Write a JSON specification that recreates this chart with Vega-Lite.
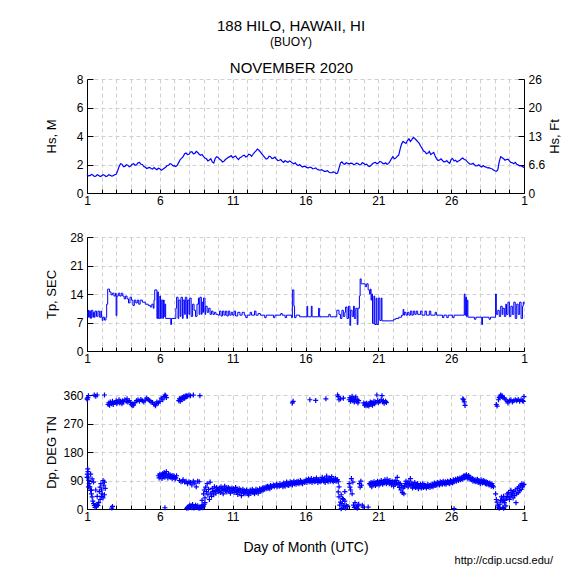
{
"$schema":"https://vega.github.io/schema/vega-lite/v6.json",
"padding":{"left":45,"top":19,"right":10,"bottom":10},
"title":{"text":"188 HILO, HAWAII, HI","subtitle":"(BUOY)","anchor":"middle","dx":-12,"fontSize":15,"fontWeight":"normal","subtitleFontSize":12,"subtitlePadding":3,"font":"Liberation Sans","subtitleFont":"Liberation Sans","color":"black","subtitleColor":"black","offset":13},
"datasets":{
"hs":[{"d":1.0,"hs":1.30},{"d":1.1,"hs":1.20},{"d":1.2,"hs":1.22},{"d":1.3,"hs":1.30},{"d":1.4,"hs":1.26},{"d":1.5,"hs":1.16},{"d":1.6,"hs":1.18},{"d":1.7,"hs":1.28},{"d":1.8,"hs":1.24},{"d":1.9,"hs":1.15},{"d":2.0,"hs":1.20},{"d":2.1,"hs":1.28},{"d":2.2,"hs":1.25},{"d":2.3,"hs":1.16},{"d":2.4,"hs":1.19},{"d":2.5,"hs":1.28},{"d":2.6,"hs":1.24},{"d":2.7,"hs":1.18},{"d":2.8,"hs":1.22},{"d":2.9,"hs":1.28},{"d":3.0,"hs":1.32},{"d":3.1,"hs":1.55},{"d":3.2,"hs":1.85},{"d":3.3,"hs":2.05},{"d":3.4,"hs":2.02},{"d":3.5,"hs":1.85},{"d":3.6,"hs":1.86},{"d":3.7,"hs":1.98},{"d":3.8,"hs":1.95},{"d":3.9,"hs":1.84},{"d":4.0,"hs":1.90},{"d":4.1,"hs":2.02},{"d":4.2,"hs":2.05},{"d":4.3,"hs":1.95},{"d":4.4,"hs":1.98},{"d":4.5,"hs":2.12},{"d":4.6,"hs":2.15},{"d":4.7,"hs":2.02},{"d":4.8,"hs":2.00},{"d":4.9,"hs":1.86},{"d":5.0,"hs":1.80},{"d":5.1,"hs":1.72},{"d":5.2,"hs":1.76},{"d":5.3,"hs":1.80},{"d":5.4,"hs":1.72},{"d":5.5,"hs":1.68},{"d":5.6,"hs":1.78},{"d":5.7,"hs":1.70},{"d":5.8,"hs":1.64},{"d":5.9,"hs":1.74},{"d":6.0,"hs":1.70},{"d":6.1,"hs":1.60},{"d":6.2,"hs":1.66},{"d":6.3,"hs":1.74},{"d":6.4,"hs":1.80},{"d":6.5,"hs":1.92},{"d":6.6,"hs":1.95},{"d":6.7,"hs":2.05},{"d":6.8,"hs":2.02},{"d":6.9,"hs":1.90},{"d":7.0,"hs":1.92},{"d":7.1,"hs":1.86},{"d":7.2,"hs":1.96},{"d":7.3,"hs":2.15},{"d":7.4,"hs":2.35},{"d":7.5,"hs":2.45},{"d":7.6,"hs":2.55},{"d":7.7,"hs":2.75},{"d":7.8,"hs":2.80},{"d":7.9,"hs":2.70},{"d":8.0,"hs":2.72},{"d":8.1,"hs":2.88},{"d":8.2,"hs":2.90},{"d":8.3,"hs":2.75},{"d":8.4,"hs":2.78},{"d":8.5,"hs":2.92},{"d":8.6,"hs":2.85},{"d":8.7,"hs":2.72},{"d":8.8,"hs":2.65},{"d":8.9,"hs":2.70},{"d":9.0,"hs":2.55},{"d":9.1,"hs":2.45},{"d":9.2,"hs":2.40},{"d":9.3,"hs":2.25},{"d":9.4,"hs":2.32},{"d":9.5,"hs":2.40},{"d":9.6,"hs":2.18},{"d":9.7,"hs":2.10},{"d":9.8,"hs":2.42},{"d":9.9,"hs":2.55},{"d":10.0,"hs":2.50},{"d":10.1,"hs":2.38},{"d":10.2,"hs":2.30},{"d":10.3,"hs":2.18},{"d":10.4,"hs":2.22},{"d":10.5,"hs":2.35},{"d":10.6,"hs":2.42},{"d":10.7,"hs":2.50},{"d":10.8,"hs":2.55},{"d":10.9,"hs":2.62},{"d":11.0,"hs":2.48},{"d":11.1,"hs":2.55},{"d":11.2,"hs":2.60},{"d":11.3,"hs":2.45},{"d":11.4,"hs":2.35},{"d":11.5,"hs":2.48},{"d":11.6,"hs":2.52},{"d":11.7,"hs":2.62},{"d":11.8,"hs":2.65},{"d":11.9,"hs":2.52},{"d":12.0,"hs":2.58},{"d":12.1,"hs":2.72},{"d":12.2,"hs":2.68},{"d":12.3,"hs":2.58},{"d":12.4,"hs":2.72},{"d":12.5,"hs":2.85},{"d":12.6,"hs":2.95},{"d":12.7,"hs":3.08},{"d":12.8,"hs":3.00},{"d":12.9,"hs":2.88},{"d":13.0,"hs":2.75},{"d":13.1,"hs":2.62},{"d":13.2,"hs":2.50},{"d":13.3,"hs":2.38},{"d":13.4,"hs":2.42},{"d":13.5,"hs":2.58},{"d":13.6,"hs":2.55},{"d":13.7,"hs":2.42},{"d":13.8,"hs":2.45},{"d":13.9,"hs":2.52},{"d":14.0,"hs":2.38},{"d":14.1,"hs":2.28},{"d":14.2,"hs":2.30},{"d":14.3,"hs":2.35},{"d":14.4,"hs":2.22},{"d":14.5,"hs":2.15},{"d":14.6,"hs":2.28},{"d":14.7,"hs":2.20},{"d":14.8,"hs":2.15},{"d":14.9,"hs":2.25},{"d":15.0,"hs":2.20},{"d":15.1,"hs":2.10},{"d":15.2,"hs":2.05},{"d":15.3,"hs":2.12},{"d":15.4,"hs":1.98},{"d":15.5,"hs":1.92},{"d":15.6,"hs":2.00},{"d":15.7,"hs":1.90},{"d":15.8,"hs":1.82},{"d":15.9,"hs":1.88},{"d":16.0,"hs":1.85},{"d":16.1,"hs":1.78},{"d":16.2,"hs":1.76},{"d":16.3,"hs":1.82},{"d":16.4,"hs":1.78},{"d":16.5,"hs":1.70},{"d":16.6,"hs":1.72},{"d":16.7,"hs":1.76},{"d":16.8,"hs":1.66},{"d":16.9,"hs":1.62},{"d":17.0,"hs":1.60},{"d":17.1,"hs":1.64},{"d":17.2,"hs":1.58},{"d":17.3,"hs":1.52},{"d":17.4,"hs":1.52},{"d":17.5,"hs":1.56},{"d":17.6,"hs":1.48},{"d":17.7,"hs":1.42},{"d":17.8,"hs":1.42},{"d":17.9,"hs":1.48},{"d":18.0,"hs":1.46},{"d":18.1,"hs":1.36},{"d":18.2,"hs":1.40},{"d":18.3,"hs":1.75},{"d":18.4,"hs":2.10},{"d":18.5,"hs":2.18},{"d":18.6,"hs":2.06},{"d":18.7,"hs":2.02},{"d":18.8,"hs":2.12},{"d":18.9,"hs":2.08},{"d":19.0,"hs":2.03},{"d":19.1,"hs":2.10},{"d":19.2,"hs":2.08},{"d":19.3,"hs":2.00},{"d":19.4,"hs":2.02},{"d":19.5,"hs":2.10},{"d":19.6,"hs":2.06},{"d":19.7,"hs":1.98},{"d":19.8,"hs":2.00},{"d":19.9,"hs":2.12},{"d":20.0,"hs":2.08},{"d":20.1,"hs":1.98},{"d":20.2,"hs":2.02},{"d":20.3,"hs":1.90},{"d":20.4,"hs":1.86},{"d":20.5,"hs":1.95},{"d":20.6,"hs":2.05},{"d":20.7,"hs":2.12},{"d":20.8,"hs":2.15},{"d":20.9,"hs":2.05},{"d":21.0,"hs":2.10},{"d":21.1,"hs":2.22},{"d":21.2,"hs":2.18},{"d":21.3,"hs":2.08},{"d":21.4,"hs":2.05},{"d":21.5,"hs":2.12},{"d":21.6,"hs":2.00},{"d":21.7,"hs":2.08},{"d":21.8,"hs":2.22},{"d":21.9,"hs":2.40},{"d":22.0,"hs":2.55},{"d":22.1,"hs":2.40},{"d":22.2,"hs":2.45},{"d":22.3,"hs":2.58},{"d":22.4,"hs":2.65},{"d":22.5,"hs":3.10},{"d":22.6,"hs":3.45},{"d":22.7,"hs":3.62},{"d":22.8,"hs":3.55},{"d":22.9,"hs":3.48},{"d":23.0,"hs":3.68},{"d":23.1,"hs":3.80},{"d":23.2,"hs":3.62},{"d":23.3,"hs":3.75},{"d":23.4,"hs":3.90},{"d":23.5,"hs":3.82},{"d":23.6,"hs":3.72},{"d":23.7,"hs":3.60},{"d":23.8,"hs":3.50},{"d":23.9,"hs":3.30},{"d":24.0,"hs":3.15},{"d":24.1,"hs":2.95},{"d":24.2,"hs":2.90},{"d":24.3,"hs":2.75},{"d":24.4,"hs":2.80},{"d":24.5,"hs":2.92},{"d":24.6,"hs":2.70},{"d":24.7,"hs":2.78},{"d":24.8,"hs":2.85},{"d":24.9,"hs":2.60},{"d":25.0,"hs":2.40},{"d":25.1,"hs":2.28},{"d":25.2,"hs":2.32},{"d":25.3,"hs":2.40},{"d":25.4,"hs":2.28},{"d":25.5,"hs":2.18},{"d":25.6,"hs":2.20},{"d":25.7,"hs":2.28},{"d":25.8,"hs":2.15},{"d":25.9,"hs":2.08},{"d":26.0,"hs":2.35},{"d":26.1,"hs":2.42},{"d":26.2,"hs":2.25},{"d":26.3,"hs":2.30},{"d":26.4,"hs":2.18},{"d":26.5,"hs":2.25},{"d":26.6,"hs":2.30},{"d":26.7,"hs":2.40},{"d":26.8,"hs":2.45},{"d":26.9,"hs":2.35},{"d":27.0,"hs":2.32},{"d":27.1,"hs":2.20},{"d":27.2,"hs":2.10},{"d":27.3,"hs":2.02},{"d":27.4,"hs":2.02},{"d":27.5,"hs":2.08},{"d":27.6,"hs":1.98},{"d":27.7,"hs":1.90},{"d":27.8,"hs":1.92},{"d":27.9,"hs":1.98},{"d":28.0,"hs":1.88},{"d":28.1,"hs":1.82},{"d":28.2,"hs":1.92},{"d":28.3,"hs":1.85},{"d":28.4,"hs":1.82},{"d":28.5,"hs":1.76},{"d":28.6,"hs":1.78},{"d":28.7,"hs":1.72},{"d":28.8,"hs":1.70},{"d":28.9,"hs":1.62},{"d":29.0,"hs":1.56},{"d":29.1,"hs":1.52},{"d":29.2,"hs":1.62},{"d":29.3,"hs":2.20},{"d":29.4,"hs":2.55},{"d":29.5,"hs":2.48},{"d":29.6,"hs":2.40},{"d":29.7,"hs":2.30},{"d":29.8,"hs":2.35},{"d":29.9,"hs":2.38},{"d":30.0,"hs":2.25},{"d":30.1,"hs":2.15},{"d":30.2,"hs":2.12},{"d":30.3,"hs":2.05},{"d":30.4,"hs":2.15},{"d":30.5,"hs":2.02},{"d":30.6,"hs":1.98},{"d":30.7,"hs":1.90},{"d":30.8,"hs":1.92},{"d":30.9,"hs":1.85},{"d":31.0,"hs":1.80}],
"tp":[{"d":1.0,"tp":9.5},{"d":1.05,"tp":8.3},{"d":1.1,"tp":10},{"d":1.15,"tp":8.3},{"d":1.2,"tp":9.8},{"d":1.25,"tp":8},{"d":1.3,"tp":10},{"d":1.4,"tp":8.3},{"d":1.45,"tp":9.5},{"d":1.5,"tp":8.3},{"d":1.55,"tp":9.8},{"d":1.65,"tp":8.5},{"d":1.75,"tp":9.8},{"d":1.85,"tp":8.3},{"d":1.95,"tp":9.8},{"d":2.0,"tp":8.3},{"d":2.05,"tp":7.5},{"d":2.1,"tp":8.3},{"d":2.2,"tp":7.6},{"d":2.3,"tp":8.3},{"d":2.35,"tp":11.5},{"d":2.42,"tp":15.2},{"d":2.55,"tp":14.5},{"d":2.65,"tp":13.8},{"d":2.75,"tp":14.2},{"d":2.85,"tp":13.5},{"d":2.95,"tp":14.2},{"d":3.0,"tp":8.7},{"d":3.05,"tp":13.5},{"d":3.15,"tp":14.2},{"d":3.25,"tp":13.5},{"d":3.35,"tp":14.2},{"d":3.45,"tp":13.5},{"d":3.55,"tp":12.8},{"d":3.65,"tp":13.5},{"d":3.75,"tp":12.8},{"d":3.85,"tp":11.8},{"d":3.95,"tp":13.2},{"d":4.05,"tp":12.5},{"d":4.15,"tp":11.2},{"d":4.25,"tp":12.5},{"d":4.35,"tp":11.8},{"d":4.45,"tp":12.5},{"d":4.55,"tp":11.5},{"d":4.65,"tp":12.5},{"d":4.8,"tp":12.0},{"d":5.0,"tp":11.5},{"d":5.2,"tp":11.2},{"d":5.35,"tp":10.8},{"d":5.45,"tp":11.5},{"d":5.55,"tp":10.5},{"d":5.6,"tp":12.5},{"d":5.65,"tp":15.0},{"d":5.8,"tp":8.0},{"d":5.85,"tp":14.5},{"d":5.9,"tp":8.0},{"d":6.0,"tp":13.5},{"d":6.05,"tp":8.0},{"d":6.1,"tp":12.5},{"d":6.2,"tp":8.0},{"d":6.25,"tp":12.5},{"d":6.3,"tp":8.5},{"d":6.35,"tp":11.5},{"d":6.4,"tp":8.0},{"d":6.75,"tp":6.5},{"d":6.8,"tp":8.0},{"d":7.1,"tp":10.5},{"d":7.15,"tp":13.2},{"d":7.25,"tp":8.0},{"d":7.3,"tp":12.5},{"d":7.4,"tp":8.5},{"d":7.45,"tp":13.2},{"d":7.55,"tp":8.0},{"d":7.6,"tp":12.5},{"d":7.7,"tp":9.0},{"d":7.75,"tp":13.2},{"d":7.85,"tp":8.0},{"d":7.9,"tp":12.5},{"d":8.0,"tp":9.0},{"d":8.05,"tp":13.0},{"d":8.15,"tp":8.5},{"d":8.25,"tp":11.5},{"d":8.35,"tp":10.0},{"d":8.45,"tp":8.5},{"d":8.55,"tp":11.5},{"d":8.65,"tp":13.0},{"d":8.7,"tp":9.0},{"d":8.75,"tp":13.2},{"d":8.85,"tp":9.0},{"d":8.9,"tp":12.0},{"d":8.95,"tp":9.5},{"d":9.0,"tp":13.0},{"d":9.1,"tp":9.0},{"d":9.15,"tp":11.0},{"d":9.25,"tp":9.5},{"d":9.35,"tp":10.5},{"d":9.45,"tp":9.0},{"d":9.55,"tp":9.8},{"d":9.65,"tp":9.0},{"d":9.75,"tp":9.5},{"d":9.85,"tp":9.0},{"d":10.0,"tp":8.8},{"d":10.1,"tp":9.8},{"d":10.2,"tp":8.6},{"d":10.3,"tp":9.8},{"d":10.4,"tp":8.8},{"d":10.5,"tp":9.8},{"d":10.6,"tp":8.6},{"d":10.7,"tp":9.8},{"d":10.8,"tp":8.8},{"d":10.9,"tp":9.5},{"d":11.0,"tp":8.8},{"d":11.1,"tp":9.8},{"d":11.2,"tp":8.6},{"d":11.35,"tp":9.5},{"d":11.5,"tp":8.8},{"d":11.65,"tp":9.5},{"d":11.8,"tp":8.8},{"d":11.9,"tp":8.2},{"d":12.0,"tp":8.8},{"d":12.2,"tp":9.5},{"d":12.3,"tp":8.8},{"d":12.5,"tp":9.8},{"d":12.6,"tp":8.8},{"d":12.75,"tp":9.2},{"d":12.9,"tp":8.8},{"d":13.2,"tp":8.2},{"d":13.3,"tp":8.8},{"d":13.8,"tp":8.2},{"d":13.9,"tp":8.8},{"d":14.3,"tp":9.2},{"d":14.4,"tp":8.8},{"d":14.6,"tp":8.2},{"d":14.7,"tp":8.8},{"d":15.05,"tp":8.2},{"d":15.1,"tp":15.0},{"d":15.2,"tp":11.0},{"d":15.25,"tp":8.2},{"d":15.35,"tp":8.8},{"d":15.6,"tp":8.4},{"d":16.1,"tp":11.0},{"d":16.15,"tp":8.4},{"d":16.4,"tp":11.0},{"d":16.45,"tp":8.4},{"d":16.9,"tp":10.5},{"d":16.95,"tp":8.4},{"d":17.6,"tp":9.0},{"d":17.7,"tp":8.4},{"d":18.15,"tp":10.0},{"d":18.3,"tp":9.0},{"d":18.4,"tp":8.0},{"d":18.5,"tp":10.0},{"d":18.6,"tp":8.5},{"d":18.7,"tp":9.5},{"d":18.75,"tp":10.8},{"d":18.85,"tp":8.0},{"d":18.95,"tp":11.0},{"d":19.05,"tp":6.3},{"d":19.1,"tp":10.0},{"d":19.2,"tp":8.5},{"d":19.3,"tp":11.0},{"d":19.35,"tp":8.0},{"d":19.45,"tp":10.5},{"d":19.55,"tp":6.5},{"d":19.6,"tp":10.5},{"d":19.7,"tp":13.5},{"d":19.75,"tp":17.7},{"d":19.82,"tp":16.5},{"d":20.1,"tp":15.8},{"d":20.2,"tp":16.5},{"d":20.3,"tp":15.0},{"d":20.4,"tp":14.0},{"d":20.45,"tp":15.2},{"d":20.5,"tp":12.5},{"d":20.55,"tp":14.0},{"d":20.6,"tp":6.8},{"d":20.7,"tp":13.5},{"d":20.75,"tp":6.5},{"d":20.85,"tp":13.0},{"d":20.9,"tp":6.5},{"d":21.0,"tp":13.0},{"d":21.1,"tp":7.5},{"d":21.2,"tp":13.0},{"d":21.25,"tp":7.4},{"d":22.05,"tp":7.8},{"d":22.2,"tp":8.0},{"d":22.4,"tp":8.3},{"d":22.6,"tp":8.8},{"d":22.7,"tp":10.2},{"d":22.75,"tp":8.8},{"d":22.8,"tp":9.5},{"d":22.9,"tp":8.8},{"d":23.0,"tp":9.5},{"d":23.1,"tp":8.8},{"d":23.2,"tp":9.8},{"d":23.3,"tp":8.8},{"d":23.4,"tp":9.8},{"d":23.5,"tp":9.0},{"d":23.6,"tp":9.8},{"d":23.7,"tp":9.0},{"d":23.9,"tp":9.8},{"d":24.0,"tp":8.8},{"d":24.2,"tp":9.8},{"d":24.3,"tp":8.8},{"d":24.5,"tp":9.8},{"d":24.6,"tp":8.8},{"d":24.9,"tp":9.5},{"d":25.0,"tp":8.8},{"d":25.4,"tp":8.2},{"d":25.5,"tp":8.8},{"d":25.7,"tp":8.2},{"d":25.8,"tp":8.8},{"d":26.1,"tp":8.2},{"d":26.2,"tp":8.8},{"d":26.9,"tp":14.0},{"d":26.95,"tp":8.8},{"d":27.0,"tp":13.2},{"d":27.05,"tp":8.5},{"d":27.1,"tp":12.5},{"d":27.15,"tp":8.3},{"d":27.6,"tp":7.8},{"d":27.7,"tp":8.3},{"d":28.1,"tp":6.5},{"d":28.15,"tp":8.3},{"d":28.6,"tp":7.8},{"d":28.7,"tp":8.3},{"d":29.05,"tp":14.0},{"d":29.1,"tp":9.0},{"d":29.2,"tp":10.0},{"d":29.3,"tp":8.5},{"d":29.4,"tp":11.0},{"d":29.5,"tp":9.0},{"d":29.55,"tp":10.5},{"d":29.65,"tp":8.5},{"d":29.75,"tp":11.5},{"d":29.8,"tp":9.0},{"d":29.9,"tp":12.0},{"d":30.0,"tp":8.5},{"d":30.1,"tp":11.0},{"d":30.2,"tp":9.0},{"d":30.3,"tp":12.0},{"d":30.4,"tp":8.0},{"d":30.5,"tp":11.5},{"d":30.6,"tp":9.0},{"d":30.7,"tp":12.0},{"d":30.8,"tp":8.0},{"d":30.9,"tp":11.0},{"d":30.95,"tp":12.0},{"d":31.0,"tp":11.5}],
"dp":[{"d":1.0,"dp":100},{"d":1.02,"dp":110},{"d":1.05,"dp":127},{"d":1.07,"dp":118},{"d":1.1,"dp":101},{"d":1.12,"dp":90},{"d":1.15,"dp":80},{"d":1.2,"dp":70},{"d":1.25,"dp":59},{"d":1.3,"dp":48},{"d":1.35,"dp":38},{"d":1.4,"dp":25},{"d":1.45,"dp":17},{"d":1.5,"dp":11},{"d":1.55,"dp":5},{"d":1.6,"dp":12},{"d":1.65,"dp":8},{"d":1.7,"dp":15},{"d":1.75,"dp":11},{"d":1.8,"dp":20},{"d":1.85,"dp":55},{"d":1.9,"dp":69},{"d":1.95,"dp":80},{"d":2.0,"dp":60},{"d":2.05,"dp":48},{"d":2.1,"dp":35},{"d":2.15,"dp":75},{"d":2.2,"dp":85},{"d":2.25,"dp":65},{"d":2.0,"dp":40},{"d":1.9,"dp":30},{"d":2.1,"dp":90},{"d":1.25,"dp":110},{"d":1.35,"dp":95},{"d":1.45,"dp":85},{"d":1.6,"dp":60},{"d":1.7,"dp":40},{"d":1.1,"dp":70},{"d":1.3,"dp":60},{"d":2.2,"dp":45},{"d":1.0,"dp":348},{"d":1.03,"dp":345},{"d":1.06,"dp":352},{"d":1.1,"dp":358},{"d":1.5,"dp":360},{"d":1.6,"dp":356},{"d":1.7,"dp":360},{"d":2.2,"dp":360},{"d":2.7,"dp":3},{"d":2.75,"dp":8},
{"d":2.45,"dp":330},{"d":2.5,"dp":335},{"d":2.55,"dp":328},{"d":2.6,"dp":338},{"d":2.7,"dp":332},{"d":2.75,"dp":340},{"d":2.8,"dp":330},{"d":2.9,"dp":336},{"d":3.0,"dp":342},{"d":3.05,"dp":333},{"d":3.1,"dp":338},{"d":3.2,"dp":345},{"d":3.25,"dp":335},{"d":3.3,"dp":340},{"d":3.4,"dp":332},{"d":3.45,"dp":342},{"d":3.5,"dp":338},{"d":3.6,"dp":345},{"d":3.7,"dp":340},{"d":3.75,"dp":348},{"d":3.8,"dp":338},{"d":3.9,"dp":342},{"d":4.0,"dp":336},{"d":4.05,"dp":330},{"d":4.1,"dp":326},{"d":4.15,"dp":332},{"d":4.2,"dp":328},{"d":4.3,"dp":336},{"d":4.4,"dp":342},{"d":4.5,"dp":345},{"d":4.6,"dp":340},{"d":4.7,"dp":346},{"d":4.8,"dp":342},{"d":4.9,"dp":338},{"d":5.0,"dp":344},{"d":5.1,"dp":350},{"d":5.2,"dp":346},{"d":5.3,"dp":342},{"d":5.4,"dp":338},{"d":5.5,"dp":336},{"d":5.6,"dp":330},{"d":5.7,"dp":326},{"d":5.75,"dp":332},{"d":5.8,"dp":338},{"d":5.9,"dp":335},{"d":6.0,"dp":340},{"d":6.1,"dp":350},{"d":6.2,"dp":345},{"d":6.3,"dp":355},{"d":6.35,"dp":360},{"d":6.4,"dp":358},{"d":6.45,"dp":352},
{"d":5.9,"dp":105},{"d":5.95,"dp":98},{"d":6.0,"dp":110},{"d":6.05,"dp":102},{"d":6.1,"dp":108},{"d":6.15,"dp":96},{"d":6.2,"dp":112},{"d":6.25,"dp":104},{"d":6.3,"dp":115},{"d":6.35,"dp":100},{"d":6.4,"dp":108},{"d":6.45,"dp":118},{"d":6.5,"dp":105},{"d":6.55,"dp":98},{"d":6.6,"dp":110},{"d":6.65,"dp":102},{"d":6.7,"dp":108},{"d":6.75,"dp":100},{"d":6.8,"dp":104},{"d":6.85,"dp":96},{"d":6.9,"dp":106},{"d":6.95,"dp":100},{"d":7.0,"dp":102},{"d":7.05,"dp":95},{"d":7.1,"dp":98},{"d":7.15,"dp":105},{"d":6.35,"dp":4},
{"d":7.35,"dp":90},{"d":7.45,"dp":86},{"d":7.55,"dp":88},{"d":7.6,"dp":92},{"d":7.7,"dp":85},{"d":7.8,"dp":88},{"d":7.9,"dp":80},{"d":8.0,"dp":86},{"d":8.1,"dp":84},{"d":8.2,"dp":76},{"d":8.3,"dp":88},{"d":8.4,"dp":82},{"d":8.5,"dp":70},{"d":8.6,"dp":88},{"d":8.7,"dp":86},
{"d":7.3,"dp":342},{"d":7.35,"dp":348},{"d":7.4,"dp":340},{"d":7.45,"dp":350},{"d":7.5,"dp":345},{"d":7.55,"dp":352},{"d":7.6,"dp":348},{"d":7.65,"dp":355},{"d":7.7,"dp":350},{"d":7.75,"dp":357},{"d":7.8,"dp":354},{"d":7.85,"dp":358},{"d":7.9,"dp":356},{"d":8.0,"dp":360},{"d":8.1,"dp":358},{"d":8.3,"dp":360},{"d":8.75,"dp":358},
{"d":7.85,"dp":2},{"d":7.9,"dp":5},{"d":7.95,"dp":3},{"d":8.0,"dp":8},{"d":8.05,"dp":12},{"d":8.1,"dp":6},{"d":8.15,"dp":10},{"d":8.2,"dp":4},{"d":8.25,"dp":14},{"d":8.3,"dp":8},{"d":8.35,"dp":3},{"d":8.4,"dp":6},{"d":8.45,"dp":12},{"d":8.5,"dp":8},{"d":8.55,"dp":5},{"d":8.6,"dp":10},{"d":8.65,"dp":3},{"d":8.7,"dp":6},{"d":8.75,"dp":2},{"d":8.8,"dp":5},{"d":8.85,"dp":8},{"d":8.9,"dp":12},{"d":8.95,"dp":4},{"d":9.0,"dp":9},{"d":9.05,"dp":15},{"d":9.1,"dp":20},
{"d":8.9,"dp":27},{"d":9.0,"dp":48},{"d":9.05,"dp":60},{"d":9.1,"dp":35},{"d":9.15,"dp":69},{"d":9.2,"dp":55},{"d":9.25,"dp":80},{"d":9.3,"dp":45},{"d":9.35,"dp":62},{"d":9.4,"dp":30},{"d":9.45,"dp":85},{"d":9.5,"dp":50},{"d":9.55,"dp":40},{"d":9.6,"dp":65},{"d":9.65,"dp":55},{"d":9.7,"dp":45},{"d":9.75,"dp":70},{"d":9.8,"dp":58},{"d":9.85,"dp":50},{"d":9.9,"dp":68},{"d":9.95,"dp":62},{"d":10.0,"dp":56},
{"d":10.05,"dp":58},{"d":10.1,"dp":66},{"d":10.15,"dp":52},{"d":10.2,"dp":70},{"d":10.25,"dp":60},{"d":10.3,"dp":64},{"d":10.35,"dp":48},{"d":10.4,"dp":62},{"d":10.45,"dp":72},{"d":10.5,"dp":58},{"d":10.55,"dp":66},{"d":10.6,"dp":54},{"d":10.65,"dp":62},{"d":10.7,"dp":68},{"d":10.75,"dp":56},{"d":10.8,"dp":64},{"d":10.85,"dp":50},{"d":10.9,"dp":60},{"d":10.95,"dp":66},{"d":11.0,"dp":58},{"d":11.05,"dp":64},{"d":11.1,"dp":52},{"d":11.15,"dp":60},{"d":11.2,"dp":68},{"d":11.25,"dp":55},{"d":11.3,"dp":62},{"d":11.35,"dp":46},{"d":11.4,"dp":58},{"d":11.45,"dp":64},{"d":11.5,"dp":52},{"d":11.55,"dp":60},{"d":11.6,"dp":42},{"d":11.65,"dp":56},{"d":11.7,"dp":62},{"d":11.75,"dp":50},{"d":11.8,"dp":58},{"d":11.85,"dp":48},{"d":11.9,"dp":55},{"d":11.95,"dp":60},{"d":12.0,"dp":50},{"d":12.05,"dp":56},{"d":12.1,"dp":44},{"d":12.15,"dp":54},{"d":12.2,"dp":60},{"d":12.25,"dp":50},{"d":12.3,"dp":56},{"d":12.35,"dp":62},{"d":12.4,"dp":52},{"d":12.45,"dp":58},{"d":12.5,"dp":48},{"d":12.55,"dp":56},{"d":12.6,"dp":62},{"d":12.65,"dp":54},{"d":12.7,"dp":60},{"d":12.75,"dp":50},{"d":12.8,"dp":58},{"d":12.85,"dp":64},{"d":12.9,"dp":56},{"d":12.95,"dp":62},{"d":13.0,"dp":58},{"d":13.05,"dp":66},{"d":13.1,"dp":60},{"d":13.15,"dp":68},{"d":13.2,"dp":62},{"d":13.3,"dp":70},{"d":13.35,"dp":64},{"d":13.4,"dp":72},{"d":13.45,"dp":66},{"d":13.5,"dp":70},{"d":13.55,"dp":64},{"d":13.6,"dp":74},{"d":13.65,"dp":68},{"d":13.7,"dp":72},{"d":13.8,"dp":76},{"d":13.85,"dp":70},{"d":13.9,"dp":74},{"d":14.0,"dp":78},{"d":14.05,"dp":70},{"d":14.1,"dp":76},{"d":14.2,"dp":72},{"d":14.25,"dp":80},{"d":14.3,"dp":74},{"d":14.4,"dp":78},{"d":14.45,"dp":70},{"d":14.5,"dp":82},{"d":14.55,"dp":76},{"d":14.6,"dp":72},{"d":14.65,"dp":80},{"d":14.7,"dp":85},{"d":14.75,"dp":76},{"d":14.8,"dp":82},{"d":14.85,"dp":74},{"d":14.9,"dp":80},{"d":14.95,"dp":86},{"d":15.0,"dp":78},{"d":15.05,"dp":84},{"d":15.1,"dp":76},{"d":15.15,"dp":82},{"d":15.2,"dp":88},{"d":15.25,"dp":80},{"d":15.3,"dp":84},{"d":15.35,"dp":78},{"d":15.4,"dp":86},{"d":15.45,"dp":82},{"d":15.5,"dp":88},{"d":15.55,"dp":80},{"d":15.6,"dp":84},{"d":15.65,"dp":90},{"d":15.7,"dp":82},{"d":15.75,"dp":86},{"d":15.8,"dp":80},{"d":15.9,"dp":88},{"d":15.95,"dp":84},
{"d":16.0,"dp":88},{"d":16.05,"dp":92},{"d":16.1,"dp":84},{"d":16.15,"dp":90},{"d":16.2,"dp":95},{"d":16.25,"dp":86},{"d":16.3,"dp":92},{"d":16.35,"dp":88},{"d":16.4,"dp":96},{"d":16.45,"dp":84},{"d":16.5,"dp":90},{"d":16.55,"dp":94},{"d":16.6,"dp":86},{"d":16.65,"dp":92},{"d":16.7,"dp":88},{"d":16.75,"dp":98},{"d":16.8,"dp":90},{"d":16.85,"dp":84},{"d":16.9,"dp":92},{"d":16.95,"dp":88},{"d":17.0,"dp":94},{"d":17.05,"dp":86},{"d":17.1,"dp":90},{"d":17.15,"dp":100},{"d":17.2,"dp":92},{"d":17.25,"dp":88},{"d":17.3,"dp":96},{"d":17.35,"dp":84},{"d":17.4,"dp":92},{"d":17.45,"dp":104},{"d":17.5,"dp":90},{"d":17.55,"dp":86},{"d":17.6,"dp":94},{"d":17.65,"dp":98},{"d":17.7,"dp":88},{"d":17.75,"dp":92},{"d":17.8,"dp":102},{"d":17.85,"dp":90},{"d":17.9,"dp":86},{"d":17.95,"dp":94},{"d":18.0,"dp":90},{"d":18.05,"dp":96},{"d":18.1,"dp":88},{"d":18.15,"dp":92},
{"d":15.1,"dp":335},{"d":15.15,"dp":340},{"d":16.3,"dp":345},{"d":16.7,"dp":343},{"d":17.4,"dp":348},
{"d":18.2,"dp":360},{"d":18.25,"dp":355},{"d":18.3,"dp":345},{"d":18.4,"dp":348},{"d":18.6,"dp":350},{"d":19.0,"dp":345},{"d":19.05,"dp":352},{"d":19.1,"dp":340},{"d":19.15,"dp":348},{"d":19.2,"dp":356},{"d":19.25,"dp":342},{"d":19.3,"dp":350},{"d":19.35,"dp":338},{"d":19.4,"dp":346},{"d":19.45,"dp":354},{"d":19.5,"dp":340},{"d":19.55,"dp":345},{"d":19.6,"dp":335},{"d":19.65,"dp":342},
{"d":18.25,"dp":54},{"d":18.3,"dp":38},{"d":18.35,"dp":12},{"d":18.4,"dp":22},{"d":18.45,"dp":1},{"d":18.5,"dp":17},{"d":18.55,"dp":33},{"d":18.6,"dp":6},{"d":18.65,"dp":10},{"d":18.7,"dp":25},{"d":18.75,"dp":3},{"d":18.8,"dp":12},{"d":18.9,"dp":8},{"d":19.0,"dp":80},{"d":19.05,"dp":69},{"d":19.1,"dp":60},{"d":19.15,"dp":96},{"d":19.2,"dp":48},{"d":19.25,"dp":85},{"d":19.3,"dp":12},{"d":19.35,"dp":5},{"d":19.4,"dp":20},{"d":19.5,"dp":6},{"d":19.55,"dp":2},{"d":19.6,"dp":10},{"d":19.65,"dp":15},{"d":19.7,"dp":80},{"d":19.75,"dp":69},{"d":19.8,"dp":88},{"d":19.85,"dp":75},{"d":19.9,"dp":12},{"d":19.95,"dp":6},{"d":18.3,"dp":70},{"d":18.45,"dp":45},{"d":18.6,"dp":30},{"d":18.7,"dp":55},{"d":18.2,"dp":92},{"d":18.25,"dp":86},
{"d":20.0,"dp":335},{"d":20.05,"dp":328},{"d":20.1,"dp":332},{"d":20.15,"dp":326},{"d":20.2,"dp":334},{"d":20.25,"dp":328},{"d":20.3,"dp":330},{"d":20.35,"dp":325},{"d":20.4,"dp":332},{"d":20.45,"dp":338},{"d":20.5,"dp":330},{"d":20.55,"dp":336},{"d":20.6,"dp":328},{"d":20.65,"dp":334},{"d":20.7,"dp":340},{"d":20.75,"dp":332},{"d":20.8,"dp":338},{"d":20.9,"dp":360},{"d":20.95,"dp":342},{"d":21.0,"dp":336},{"d":21.1,"dp":340},{"d":21.2,"dp":345},{"d":21.3,"dp":338},{"d":21.35,"dp":342},{"d":21.4,"dp":334},{"d":21.5,"dp":340},{"d":21.55,"dp":336},{"d":21.25,"dp":358},{"d":20.3,"dp":6},
{"d":20.4,"dp":80},{"d":20.45,"dp":76},{"d":20.5,"dp":84},{"d":20.55,"dp":70},{"d":20.6,"dp":82},{"d":20.65,"dp":78},{"d":20.7,"dp":86},{"d":20.75,"dp":80},{"d":20.8,"dp":74},{"d":20.85,"dp":84},{"d":20.9,"dp":78},{"d":20.95,"dp":88},{"d":21.0,"dp":82},{"d":21.05,"dp":76},{"d":21.1,"dp":86},{"d":21.15,"dp":80},{"d":21.2,"dp":90},{"d":21.25,"dp":84},{"d":21.3,"dp":78},{"d":21.35,"dp":88},{"d":21.4,"dp":82},{"d":21.45,"dp":92},{"d":21.5,"dp":86},{"d":21.55,"dp":80},{"d":21.6,"dp":94},{"d":21.65,"dp":84},{"d":21.7,"dp":88},{"d":21.75,"dp":80},{"d":21.8,"dp":90},{"d":21.85,"dp":84},{"d":21.9,"dp":76},{"d":21.95,"dp":88},{"d":22.0,"dp":82},{"d":22.05,"dp":72},{"d":22.1,"dp":86},{"d":22.15,"dp":78},{"d":22.2,"dp":90},{"d":22.25,"dp":82},{"d":22.3,"dp":100},{"d":22.35,"dp":76},{"d":22.4,"dp":84},{"d":22.45,"dp":68},{"d":22.5,"dp":80},{"d":22.55,"dp":60},{"d":22.6,"dp":74},{"d":22.65,"dp":52},{"d":22.7,"dp":66},{"d":22.75,"dp":48},{"d":22.8,"dp":70},{"d":22.85,"dp":80},{"d":22.9,"dp":88},{"d":22.95,"dp":76},{"d":23.0,"dp":82},{"d":23.05,"dp":70},{"d":23.1,"dp":86},{"d":23.15,"dp":78},{"d":23.2,"dp":96},{"d":23.25,"dp":74},{"d":23.3,"dp":82},{"d":23.35,"dp":66},{"d":23.4,"dp":78},{"d":23.45,"dp":72},{"d":23.5,"dp":84},{"d":23.55,"dp":68},{"d":23.6,"dp":76},{"d":23.65,"dp":70},{"d":23.7,"dp":80},{"d":23.75,"dp":64},{"d":23.8,"dp":74},{"d":23.85,"dp":70},{"d":23.9,"dp":78},{"d":23.95,"dp":66},{"d":24.0,"dp":72},{"d":24.05,"dp":80},{"d":24.1,"dp":68},{"d":24.15,"dp":76},{"d":24.2,"dp":70},{"d":24.25,"dp":74},{"d":24.3,"dp":66},{"d":24.35,"dp":72},{"d":24.4,"dp":78},{"d":24.45,"dp":70},{"d":24.5,"dp":74},{"d":24.55,"dp":68},{"d":24.6,"dp":76},{"d":24.65,"dp":72},{"d":24.7,"dp":78},{"d":24.75,"dp":70},{"d":24.8,"dp":76},{"d":24.85,"dp":82},{"d":24.9,"dp":74},{"d":24.95,"dp":80},{"d":25.0,"dp":76},{"d":25.05,"dp":84},{"d":25.1,"dp":78},{"d":25.15,"dp":82},{"d":25.2,"dp":76},{"d":25.25,"dp":86},{"d":25.3,"dp":80},{"d":25.35,"dp":84},{"d":25.4,"dp":78},{"d":25.45,"dp":88},{"d":25.5,"dp":82},{"d":25.55,"dp":80},{"d":25.6,"dp":86},{"d":25.65,"dp":78},{"d":25.7,"dp":84},{"d":25.75,"dp":88},{"d":25.8,"dp":82},{"d":25.85,"dp":86},{"d":25.9,"dp":80},{"d":25.95,"dp":90},{"d":26.0,"dp":84},{"d":26.05,"dp":88},{"d":26.1,"dp":82},{"d":26.15,"dp":92},{"d":26.2,"dp":86},{"d":26.25,"dp":90},{"d":26.3,"dp":94},{"d":26.35,"dp":88},{"d":26.4,"dp":92},{"d":26.45,"dp":96},{"d":26.5,"dp":90},{"d":26.55,"dp":94},{"d":26.6,"dp":98},{"d":26.65,"dp":92},{"d":26.7,"dp":96},{"d":26.75,"dp":100},{"d":26.8,"dp":94},{"d":26.85,"dp":104},{"d":26.9,"dp":98},{"d":26.95,"dp":106},{"d":27.0,"dp":100},{"d":27.05,"dp":108},{"d":27.1,"dp":102},{"d":27.15,"dp":96},{"d":27.2,"dp":106},{"d":27.25,"dp":100},{"d":27.3,"dp":94},{"d":27.35,"dp":98},{"d":27.4,"dp":92},{"d":27.45,"dp":96},{"d":27.5,"dp":88},{"d":27.55,"dp":94},{"d":27.6,"dp":90},{"d":27.65,"dp":86},{"d":27.7,"dp":92},{"d":27.75,"dp":88},{"d":27.8,"dp":94},{"d":27.85,"dp":84},{"d":27.9,"dp":90},{"d":27.95,"dp":86},{"d":28.0,"dp":80},{"d":28.05,"dp":92},{"d":28.1,"dp":86},{"d":28.15,"dp":82},{"d":28.2,"dp":90},{"d":28.25,"dp":84},{"d":28.3,"dp":88},{"d":28.35,"dp":80},{"d":28.4,"dp":86},{"d":28.45,"dp":78},{"d":28.5,"dp":84},{"d":28.55,"dp":80},{"d":28.6,"dp":76},{"d":28.65,"dp":82},{"d":28.7,"dp":78},{"d":28.75,"dp":72},{"d":28.8,"dp":80},{"d":28.85,"dp":74},{"d":28.9,"dp":70},
{"d":26.85,"dp":345},{"d":26.9,"dp":338},{"d":26.95,"dp":327},{"d":26.8,"dp":348},{"d":26.2,"dp":1},
{"d":29.1,"dp":330},{"d":29.15,"dp":325},{"d":29.25,"dp":345},{"d":29.3,"dp":352},{"d":29.35,"dp":356},{"d":29.4,"dp":360},{"d":29.45,"dp":355},{"d":29.5,"dp":358},{"d":29.55,"dp":352},{"d":29.65,"dp":350},{"d":29.75,"dp":345},{"d":29.85,"dp":340},{"d":29.9,"dp":335},{"d":30.0,"dp":342},{"d":30.1,"dp":345},{"d":30.2,"dp":338},{"d":30.3,"dp":342},{"d":30.4,"dp":345},{"d":30.5,"dp":342},{"d":30.6,"dp":346},{"d":30.7,"dp":340},{"d":30.8,"dp":345},{"d":30.9,"dp":342},{"d":31.0,"dp":355},{"d":30.95,"dp":340},
{"d":29.05,"dp":48},{"d":29.1,"dp":30},{"d":29.15,"dp":22},{"d":29.2,"dp":12},{"d":29.25,"dp":6},{"d":29.3,"dp":2},{"d":29.35,"dp":15},{"d":29.4,"dp":27},{"d":29.45,"dp":38},{"d":29.5,"dp":25},{"d":29.55,"dp":30},{"d":29.6,"dp":40},{"d":29.65,"dp":20},{"d":29.7,"dp":27},{"d":29.75,"dp":10},{"d":29.8,"dp":35},{"d":29.85,"dp":48},{"d":29.9,"dp":40},{"d":29.95,"dp":52},{"d":30.0,"dp":30},{"d":30.05,"dp":38},{"d":30.1,"dp":59},{"d":30.15,"dp":45},{"d":30.2,"dp":50},{"d":30.25,"dp":35},{"d":30.3,"dp":55},{"d":30.35,"dp":42},{"d":30.4,"dp":60},{"d":30.45,"dp":20},{"d":30.5,"dp":48},{"d":30.55,"dp":65},{"d":30.6,"dp":52},{"d":30.65,"dp":70},{"d":30.7,"dp":58},{"d":30.75,"dp":75},{"d":30.8,"dp":62},{"d":30.85,"dp":80},{"d":30.9,"dp":70},{"d":30.95,"dp":76},{"d":31.0,"dp":78},{"d":29.55,"dp":5},{"d":29.6,"dp":2}]
},
"vconcat":[
{"width":437,"height":114,
 "title":{"text":"NOVEMBER 2020","fontSize":15,"fontWeight":"normal","font":"Liberation Sans","color":"black","anchor":"middle","frame":"group","dx":-14,"offset":-3},
 "data":{"name":"hs"},
 "encoding":{
  "x":{"field":"d","type":"quantitative","scale":{"domain":[1,31],"nice":false,"zero":false},"axis":{"title":null,"values":[1,2,3,4,5,6,7,8,9,10,11,12,13,14,15,16,17,18,19,20,21,22,23,24,25,26,27,28,29,30,31],"labelExpr":"(datum.value-1)%5==0?(datum.value==31?'1':''+datum.value):''","labelOverlap":false,"labelFlush":false,"labelBound":false}}
 },
 "layer":[
  {"mark":{"type":"line","color":"#0000ff","strokeWidth":1.2},
   "encoding":{
    "y":{"field":"hs","type":"quantitative","scale":{"domain":[0,8],"nice":false},"axis":{"values":[0,2,4,6,8],"title":"Hs, M"}}}},
  {"mark":{"type":"line","opacity":0},
   "encoding":{
    "y":{"field":"hs","type":"quantitative","scale":{"domain":[0,8],"nice":false},"axis":{"orient":"right","values":[0,2,4,6,8],"grid":false,"title":"Hs, Ft","titleAngle":-90,"titleBaseline":"middle","titleX":30,"titleAlign":"center","minExtent":20,"maxExtent":20,"labelAlign":"left","labelExpr":"datum.value==0?'0':datum.value==2?'6.6':datum.value==4?'13':datum.value==6?'20':'26'"}}}}
 ],
 "resolve":{"scale":{"y":"independent"}}
},
{"width":437,"height":114,
 "data":{"name":"tp"},
 "mark":{"type":"line","color":"#0000ff","strokeWidth":1,"interpolate":"step-after"},
 "encoding":{
  "x":{"field":"d","type":"quantitative","scale":{"domain":[1,31],"nice":false,"zero":false},"axis":{"title":null,"values":[1,2,3,4,5,6,7,8,9,10,11,12,13,14,15,16,17,18,19,20,21,22,23,24,25,26,27,28,29,30,31],"labelExpr":"(datum.value-1)%5==0?(datum.value==31?'1':''+datum.value):''","labelOverlap":false,"labelFlush":false,"labelBound":false}},
  "y":{"field":"tp","type":"quantitative","scale":{"domain":[0,28],"nice":false},"axis":{"values":[0,7,14,21,28],"title":"Tp, SEC"}}}
},
{"width":437,"height":114,
 "title":{"text":"http://cdip.ucsd.edu/","orient":"bottom","anchor":"end","frame":"group","fontSize":11,"fontWeight":"normal","font":"Liberation Sans","color":"black","dx":29,"offset":1},
 "data":{"name":"dp"},
 "mark":{"type":"point","shape":"M-1,0H1M0,-1V1","filled":false,"size":25,"strokeWidth":1.2,"color":"#0000ff","opacity":1},
 "encoding":{
  "x":{"field":"d","type":"quantitative","scale":{"domain":[1,31],"nice":false,"zero":false},"axis":{"title":"Day of Month (UTC)","titleFontSize":14,"titlePadding":18,"values":[1,2,3,4,5,6,7,8,9,10,11,12,13,14,15,16,17,18,19,20,21,22,23,24,25,26,27,28,29,30,31],"labelExpr":"(datum.value-1)%5==0?(datum.value==31?'1':''+datum.value):''","labelOverlap":false,"labelFlush":false,"labelBound":false}},
  "y":{"field":"dp","type":"quantitative","scale":{"domain":[0,360],"nice":false},"axis":{"values":[0,90,180,270,360],"title":"Dp, DEG TN"}}}
}
],
"spacing":44,
"bounds":"flush",
"config":{
 "view":{"stroke":null},
 "font":"Liberation Sans",
 "axis":{"domainColor":"black","tickColor":"black","labelColor":"black","titleColor":"black","gridColor":"#d0d0d0","gridDash":[4,3],"labelFont":"Liberation Sans","titleFont":"Liberation Sans","labelFontSize":12,"titleFontSize":13,"titleFontWeight":"normal","domainWidth":1,"tickWidth":1,"labelFlush":false,"labelOverlap":false},
 "axisX":{"tickSize":-4,"labelPadding":6},
 "axisY":{"tickSize":-6,"labelPadding":10,"minExtent":25,"maxExtent":25,"titlePadding":4}
}
}
